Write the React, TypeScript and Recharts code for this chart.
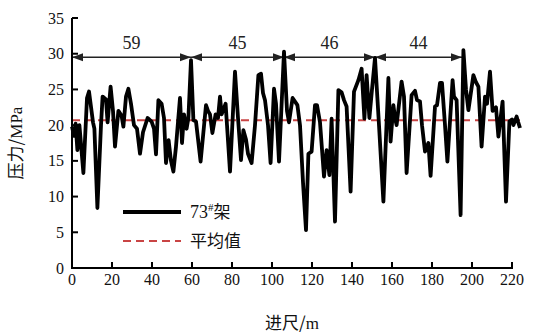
import React from 'react';
import {
  LineChart,
  Line,
  XAxis,
  YAxis,
  ReferenceLine,
} from 'recharts';

const distance = [
  0, 1, 1.8, 2.7, 3.7, 5.7, 7.5, 8.5, 10.5, 11.2, 12.7, 14.5, 15.3, 17, 17.8, 19.3, 20.5, 21.5,
  23.2, 24.8, 25.7, 27, 28.2, 29.5, 31, 32.5, 34, 35.5, 37.8, 39.8, 41, 42, 43.2, 44.8, 46, 47,
  48.3, 49.5, 50.7, 52, 54, 55, 56, 57.3, 58.2, 59.5, 60.7, 62, 64.3, 67, 68, 69, 70.2, 71.8, 73,
  74, 74.8, 76.8, 77.5, 79, 81.5, 83, 84.5, 85.7, 87, 88, 89.8, 91.5, 93.2, 94.5, 95.5, 96.5, 98,
  99.3, 101, 102, 103.5, 106, 107.5, 108.5, 110.3, 112.7, 114, 115.5, 117, 118.2, 119.8, 121.5,
  122.5, 124, 126, 127.3, 128.7, 129.8, 131.5, 133.2, 134.8, 136, 137.3, 139.3, 141, 143.2, 144.8,
  146.2, 147.3, 148.7, 150, 151.5, 153.5, 155.7, 158.2, 159.3, 160.7, 161.5, 162.3, 164.8, 166,
  167.3, 169.8, 171.5, 172.5, 174, 175, 176.5, 178.2, 179.3, 181.5, 182.5, 184, 185, 186.5, 187.7,
  190.3, 191, 192.3, 194.3, 195.7, 197, 198.2, 200.7, 202, 203.2, 204.8, 206.5, 207.5, 209, 210.3,
  212, 213.2, 215.3, 217, 218.7, 220, 220.7, 222.3, 223, 224,
];

const pressure = [
  19.8, 18.5, 20.2, 16.5, 20.0, 13.3, 23.8, 24.7, 20.4, 19.5, 8.4, 20, 24, 23.6, 20.4, 25.4, 22, 17,
  22, 21.3, 19.8, 24, 25.1, 23, 20, 19.5, 16, 19, 21, 20.5, 19.5, 15.9, 23.5, 23, 21, 14.7,
  17.9, 15, 13.5, 17, 23.8, 17.5, 21.5, 19.5, 21, 29.1, 20.7, 20.5, 14.9, 22.8, 22, 21.5, 18.9, 21.5, 21,
  24, 21.5, 23, 20, 13.5, 27.5, 21, 15.1, 19.3, 18, 16, 14.7, 20, 27.0, 27.2, 24.5, 23.5, 20,
  14.7, 25.1, 23, 14.9, 30.3, 22, 20.4, 23.8, 22.8, 20, 12, 5.3, 16, 16.3, 22.8,
  22.8, 20.4, 12.8, 16.5, 13.0, 20.9, 6.5, 24.9, 24.6, 23.5, 22.6, 10.7, 24.7, 26.3, 27.9,
  20.9, 27, 21, 25, 29.4, 20, 9.3, 26.6, 17.7, 22.8, 21, 20, 26.1, 24,
  13.3, 24.2, 24.8, 23.5, 23.3, 20, 16.3, 17.5, 12.9, 22.6, 22.8, 25.9, 25.9, 20, 14.9,
  26.3, 24, 23.5, 7.4, 30.5, 25, 22.1, 27, 26, 25.4, 17, 24, 23, 27.5, 22,
  22.5, 18.4, 23.3, 9.3, 20.5, 20.8, 20, 21.2, 20.5, 19.6,
];

const meanValue = 20.7;

// 循环步距 (start, end, label)
const stepStart = [0, 59.5, 106, 151.5];
const stepEnd = [59.5, 106, 151.5, 195];
const stepLabel = ['59', '45', '46', '44'];
const arrowY = 29.5;

const xTicks = [0, 20, 40, 60, 80, 100, 120, 140, 160, 180, 200, 220];
const yTicks = [0, 5, 10, 15, 20, 25, 30, 35];

const data = distance.map((d, i) => ({ d, p: pressure[i], m: meanValue }));

const SERIF = 'Liberation Serif, serif';
const CJK = 'Noto Sans CJK SC, sans-serif';

const XTick = (props: any) => {
  const { x, y, payload } = props;
  return (
    <g>
      <line x1={x} x2={x} y1={y - 4} y2={y - 10} stroke="#000" strokeWidth={2} />
      <text x={x} y={y} dy="0.8em" textAnchor="middle" fontSize={16} style={{ fontFamily: SERIF }} fill="#111">
        {payload.value}
      </text>
    </g>
  );
};

const YTick = (props: any) => {
  const { x, y, payload } = props;
  return (
    <g>
      <line x1={x + 8} x2={x + 14} y1={y} y2={y} stroke="#000" strokeWidth={2} />
      <text x={x} y={y} dy="0.35em" textAnchor="end" fontSize={16} style={{ fontFamily: SERIF }} fill="#111">
        {payload.value}
      </text>
    </g>
  );
};

const arrowShape = (label: string) => (props: any) => {
  const { x1, y1, x2, y2 } = props;
  if (x1 == null) return null;
  const h = 11;
  const w = 4;
  return (
    <g>
      <line x1={x1} y1={y1} x2={x2} y2={y2} stroke="#222" strokeWidth={1.6} />
      <polygon points={`${x1},${y1} ${x1 + h},${y1 - w} ${x1 + h},${y1 + w}`} fill="#222" />
      <polygon points={`${x2},${y2} ${x2 - h},${y2 - w} ${x2 - h},${y2 + w}`} fill="#222" />
      <text x={(x1 + x2) / 2} y={y1 - 8} textAnchor="middle" fontSize={18} style={{ fontFamily: SERIF }} fill="#222">
        {label}
      </text>
    </g>
  );
};

const axisShape = (props: any) => {
  const { x1, y1, x2, y2 } = props;
  if (x1 == null) return null;
  return <line x1={x1 - 1} y1={y1} x2={x2 + 1} y2={y2} stroke="#000" strokeWidth={2} />;
};

export default function App() {
  return (
    <div style={{ position: 'absolute', left: 0, top: 0, width: 537, height: 336, background: '#fff' }}>
      <LineChart width={537} height={336} data={data} margin={{ top: 18, right: 17, bottom: 38, left: 0 }}>
        <XAxis
          dataKey="d"
          type="number"
          domain={[0, 224]}
          ticks={xTicks}
          interval={0}
          axisLine={false}
          tickLine={false}
          tickSize={0}
          tickMargin={4}
          height={30}
          tick={<XTick />}
        />
        <YAxis
          type="number"
          domain={[0, 35]}
          ticks={yTicks}
          interval={0}
          width={72}
          axisLine={{ stroke: '#000', strokeWidth: 2 }}
          tickLine={false}
          tickSize={0}
          tickMargin={8}
          tick={<YTick />}
        />
        <ReferenceLine segment={[{ x: 0, y: 0 }, { x: 220, y: 0 }]} shape={axisShape} />
        {stepStart.map((s, i) => (
          <ReferenceLine
            key={stepLabel[i]}
            segment={[{ x: s, y: arrowY }, { x: stepEnd[i], y: arrowY }]}
            shape={arrowShape(stepLabel[i])}
          />
        ))}
        <Line
          dataKey="m"
          stroke="#c94444"
          strokeWidth={2}
          strokeDasharray="8 5"
          dot={false}
          isAnimationActive={false}
        />
        <Line
          dataKey="p"
          type="linear"
          stroke="#000"
          strokeWidth={3.8}
          strokeLinejoin="round"
          dot={false}
          isAnimationActive={false}
        />
      </LineChart>

      {/* legend and axis titles */}
      <svg width={537} height={336} style={{ position: 'absolute', left: 0, top: 0, pointerEvents: 'none' }}>
        <line x1={123} x2={181} y1={212} y2={212} stroke="#000" strokeWidth={4} />
        <text x={190} y={218} fontSize={18} style={{ fontFamily: SERIF }} fill="#111">
          73<tspan dy={-7} fontSize={11}>#</tspan>
          <tspan dy={7} style={{ fontFamily: CJK }} fontSize={17}>架</tspan>
        </text>
        <line x1={123} x2={181} y1={241} y2={241} stroke="#c94444" strokeWidth={2} strokeDasharray="8 5" />
        <text x={190} y={247} fontSize={17} style={{ fontFamily: CJK }} fill="#111">平均值</text>

        <text
          transform="translate(22,143) rotate(-90)"
          textAnchor="middle"
          fontSize={17}
          style={{ fontFamily: CJK }}
          fill="#111"
        >
          压力/<tspan style={{ fontFamily: SERIF }}>MPa</tspan>
        </text>
        <text x={292} y={329} textAnchor="middle" fontSize={17} style={{ fontFamily: CJK }} fill="#111">
          进尺/<tspan style={{ fontFamily: SERIF }}>m</tspan>
        </text>
      </svg>
    </div>
  );
}
